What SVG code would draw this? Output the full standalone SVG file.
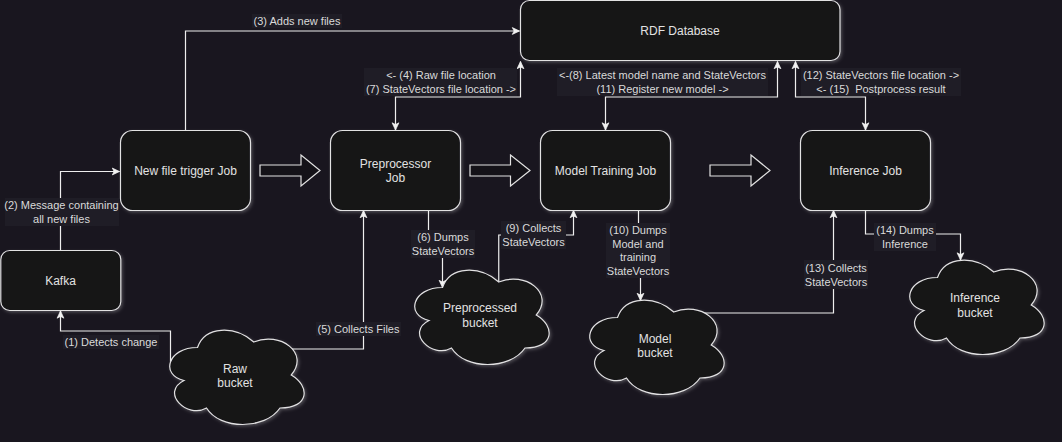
<svg xmlns="http://www.w3.org/2000/svg" width="1062" height="442" viewBox="0 0 1062 442">
<style>
.bg{fill:#19161f}
.node{fill:#141218;stroke:#e2e2e2;stroke-width:1.2;filter:url(#glow)}
.ntext{font-family:"Liberation Sans",Arial,sans-serif;font-size:12px;fill:#e2e2e2;text-anchor:middle;dominant-baseline:central}
.edge{fill:none;stroke:#eeeeee;stroke-width:1.2}
.lbg{fill:#1f1d26}
.ltext{font-family:"Liberation Sans",Arial,sans-serif;font-size:11px;fill:#dadada;text-anchor:middle;dominant-baseline:central}
.block{fill:#141218;stroke:#e2e2e2;stroke-width:1.2}
</style>
<defs>
<filter id="glow" x="-20%" y="-20%" width="140%" height="140%">
<feDropShadow dx="1.5" dy="1.5" stdDeviation="1.5" flood-color="#ffffff" flood-opacity="0.22"/>
</filter>
<marker id="arr" viewBox="0 0 10 10" refX="9" refY="5" markerWidth="9" markerHeight="9" markerUnits="userSpaceOnUse" orient="auto-start-reverse">
<path d="M1,1.2 L9,5 L1,8.8 L3,5 Z" fill="#f2f2f2" stroke="#f2f2f2" stroke-width="0.8"/>
</marker>
<path id="cloud" d="M37.5,27.5 C7.5,27.5 0,55 24,60.5 C0,72.6 27,99 46.5,88 C60,110 105,110 120,88 C150,88 150,66 131.25,55 C150,33 120,11 93.75,22 C75,5.5 45,5.5 37.5,27.5 Z"/>
</defs>
<rect class="bg" x="0" y="0" width="1062" height="442"/>

<g id="connectors">
<path class="edge" d="M170.5,362 V331 H60.5 V311" marker-end="url(#arr)"/>
<path class="edge" d="M60.5,250 V171.5 H119.5" marker-end="url(#arr)"/>
<path class="edge" d="M185.5,130 V31 H519.5" marker-end="url(#arr)"/>
<path class="edge" d="M395.5,130 V97 H520.5 V61.5" marker-start="url(#arr)" marker-end="url(#arr)"/>
<path class="edge" d="M290,349 H363.5 V210.5" marker-end="url(#arr)"/>
<path class="edge" d="M428.5,210 V244 H442.5 V287.5" marker-end="url(#arr)"/>
<path class="edge" d="M498.75,282 V235 H573.5 V210.5" marker-end="url(#arr)"/>
<path class="edge" d="M605.5,130 V97 H777.5 V61.5" marker-start="url(#arr)" marker-end="url(#arr)"/>
<path class="edge" d="M638.5,210 V250 H640.5 V300.5" marker-end="url(#arr)"/>
<path class="edge" d="M700,313 H833.5 V210.5" marker-end="url(#arr)"/>
<path class="edge" d="M795.5,61.5 V97 H865.5 V130" marker-start="url(#arr)" marker-end="url(#arr)"/>
<path class="edge" d="M865.5,210 V234 H960.5 V260" marker-end="url(#arr)"/>

<rect class="lbg" x="252" y="14" width="90" height="14"/>
<text class="ltext" x="297" y="21">(3) Adds new files</text>

<rect class="lbg" x="364" y="68" width="153" height="28"/>
<text class="ltext" x="441" y="75">&lt;- (4) Raw file location</text>
<text class="ltext" x="441" y="89">(7) StateVectors file location -&gt;</text>

<rect class="lbg" x="557" y="68" width="211" height="28"/>
<text class="ltext" x="662.5" y="75">&lt;-(8) Latest model name and StateVectors</text>
<text class="ltext" x="662.5" y="89">(11) Register new model -&gt;</text>

<rect class="lbg" x="801" y="68" width="160" height="28"/>
<text class="ltext" x="881" y="75">(12) StateVectors file location -&gt;</text>
<text class="ltext" x="881" y="89" xml:space="preserve">&lt;- (15)  Postprocess result</text>

<rect class="lbg" x="5" y="198" width="114" height="28"/>
<text class="ltext" x="61.5" y="205">(2) Message containing</text>
<text class="ltext" x="61.5" y="219">all new files</text>

<rect class="lbg" x="63" y="335" width="96" height="14"/>
<text class="ltext" x="111" y="342">(1) Detects change</text>

<rect class="lbg" x="316" y="322" width="85" height="14"/>
<text class="ltext" x="358.5" y="329">(5) Collects Files</text>

<rect class="lbg" x="411" y="230" width="64" height="28"/>
<text class="ltext" x="443" y="237">(6) Dumps</text>
<text class="ltext" x="443" y="251">StateVectors</text>

<rect class="lbg" x="501" y="221" width="65" height="28"/>
<text class="ltext" x="533.5" y="228">(9) Collects</text>
<text class="ltext" x="533.5" y="242">StateVectors</text>

<rect class="lbg" x="606" y="223" width="64" height="55"/>
<text class="ltext" x="638" y="230">(10) Dumps</text>
<text class="ltext" x="638" y="243.5">Model and</text>
<text class="ltext" x="638" y="257">training</text>
<text class="ltext" x="638" y="270.5">StateVectors</text>

<rect class="lbg" x="804" y="260" width="64" height="29"/>
<text class="ltext" x="836" y="267.5">(13) Collects</text>
<text class="ltext" x="836" y="281.5">StateVectors</text>

<rect class="lbg" x="874" y="223" width="62" height="28"/>
<text class="ltext" x="905" y="230">(14) Dumps</text>
<text class="ltext" x="905" y="244">Inference</text>
</g>

<g id="flow-arrows">
<path class="block" d="M260,165 H301 V155 L320,170.5 L301,186 V176 H260 Z"/>
<path class="block" d="M470,165 H510.5 V155 L530,170.5 L510.5,186 V176 H470 Z"/>
<path class="block" d="M710,165 H751 V155 L770,170.5 L751,186 V176 H710 Z"/>
</g>

<g id="rdf-database">
<rect class="node" x="520.5" y="0.5" width="319.5" height="60" rx="9"/>
<text class="ntext" x="680" y="30.5">RDF Database</text>
</g>
<g id="new-file-trigger-job">
<rect class="node" x="120.5" y="130.5" width="130" height="80" rx="12"/>
<text class="ntext" x="185.5" y="170.5">New file trigger Job</text>
</g>
<g id="preprocessor-job">
<rect class="node" x="330.5" y="130.5" width="130" height="80" rx="12"/>
<text class="ntext" x="395.5" y="163.5">Preprocessor</text>
<text class="ntext" x="395.5" y="177.5">Job</text>
</g>
<g id="model-training-job">
<rect class="node" x="540.5" y="130.5" width="130" height="80" rx="12"/>
<text class="ntext" x="605.5" y="170.5">Model Training Job</text>
</g>
<g id="inference-job">
<rect class="node" x="800.5" y="130.5" width="130" height="80" rx="12"/>
<text class="ntext" x="865.5" y="170.5">Inference Job</text>
</g>
<g id="kafka">
<rect class="node" x="0.8" y="250.5" width="120" height="60" rx="9"/>
<text class="ntext" x="60.5" y="280.5">Kafka</text>
</g>
<g id="raw-bucket">
<use href="#cloud" class="node" transform="translate(160,320)"/>
<text class="ntext" x="235" y="368.5">Raw</text>
<text class="ntext" x="235" y="383">bucket</text>
</g>
<g id="preprocessed-bucket">
<use href="#cloud" class="node" transform="translate(405,260)"/>
<text class="ntext" x="480" y="308">Preprocessed</text>
<text class="ntext" x="480" y="322.5">bucket</text>
</g>
<g id="model-bucket">
<use href="#cloud" class="node" transform="translate(580,290)"/>
<text class="ntext" x="655" y="338.5">Model</text>
<text class="ntext" x="655" y="353">bucket</text>
</g>
<g id="inference-bucket">
<use href="#cloud" class="node" transform="translate(900,250)"/>
<text class="ntext" x="975" y="298">Inference</text>
<text class="ntext" x="975" y="312.5">bucket</text>
</g>
</svg>
